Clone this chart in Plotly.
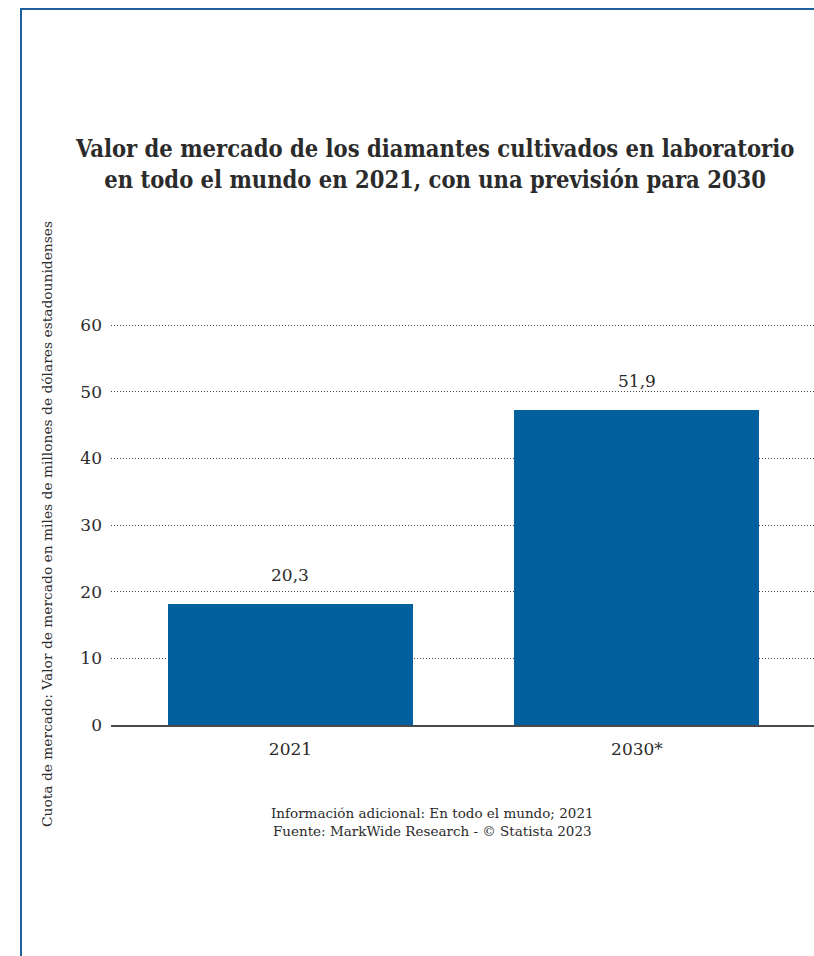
import plotly.graph_objects as go

# Data
categories = ["2021", "2030*"]
bar_heights = [18.15, 47.25]          # bar heights as drawn in the picture
value_labels = ["20,3", "51,9"]       # printed values
y_ticks = [0, 10, 20, 30, 40, 50, 60]

title_text = ("<b>Valor de mercado de los diamantes cultivados en laboratorio</b><br>"
              "<b>en todo el mundo en 2021, con una previsión para 2030</b>")
y_title = "Cuota de mercado: Valor de mercado en miles de millones de dólares estadounidenses"
foot_text = ("Información adicional: En todo el mundo; 2021<br>"
             "Fuente: MarkWide Research - © Statista 2023")

W, H = 814, 956
L, R, T, B = 111, 814, 323, 725
YMAX = 60.3
def px(x):
    return (x - L) / (R - L)
def py(y):
    return (B - y) / (B - T)

SERIF = "DejaVu Serif"
TITLE_FONT = "DejaVu Serif Condensed, DejaVu Serif"
TXT = "#2b2b2b"
BAR = "#03609f"

fig = go.Figure()
fig.add_trace(go.Bar(
    x=[0, 1], y=bar_heights, width=0.707,
    marker=dict(color=BAR, line=dict(width=0)),
    hoverinfo="skip", showlegend=False,
))

annotations = []
for i, (lab, v) in enumerate(zip(value_labels, bar_heights)):
    annotations.append(dict(x=i, y=v, xref="x", yref="y", text=lab, showarrow=False,
                            yanchor="middle", yshift=29,
                            font=dict(family=SERIF, size=17, color=TXT)))
annotations.append(dict(x=px(434), y=py(164), xref="paper", yref="paper", text=title_text,
                        showarrow=False, xanchor="center", yanchor="middle", align="center",
                        font=dict(family=TITLE_FONT, size=23.5, color=TXT)))
annotations.append(dict(x=px(47), y=py(524), xref="paper", yref="paper", text=y_title,
                        showarrow=False, textangle=-90, xanchor="center", yanchor="middle",
                        font=dict(family=SERIF, size=13.8, color=TXT)))
annotations.append(dict(x=px(432), y=py(822), xref="paper", yref="paper", text=foot_text,
                        showarrow=False, xanchor="center", yanchor="middle", align="center",
                        font=dict(family=SERIF, size=13.5, color=TXT)))

shapes = [
    dict(type="line", xref="paper", yref="paper", x0=px(21), x1=px(21), y0=py(9), y1=py(960),
         line=dict(color="#1f5f99", width=2)),
    dict(type="line", xref="paper", yref="paper", x0=px(20), x1=px(820), y0=py(9), y1=py(9),
         line=dict(color="#1f5f99", width=2)),
]

fig.update_layout(
    width=W, height=H,
    margin=dict(l=L, r=W - R, t=T, b=H - B, pad=0),
    paper_bgcolor="white", plot_bgcolor="white",
    bargap=0,
    annotations=annotations, shapes=shapes,
    xaxis=dict(range=[-0.518, 1.511], tickvals=[0, 1], ticktext=categories,
               showgrid=False, zeroline=False, showline=True, linecolor="#4a4a4a", linewidth=1.6,
               ticks="", ticklabelstandoff=8,
               tickfont=dict(family=SERIF, size=17, color=TXT), fixedrange=True),
    yaxis=dict(range=[0, YMAX], tickvals=y_ticks, showgrid=True, gridcolor="#444444",
               griddash="1px,2px", gridwidth=1, zeroline=False, showline=False,
               ticks="", ticklabelstandoff=8,
               tickfont=dict(family=SERIF, size=17, color=TXT), fixedrange=True),
)

fig.write_html("out.html")
